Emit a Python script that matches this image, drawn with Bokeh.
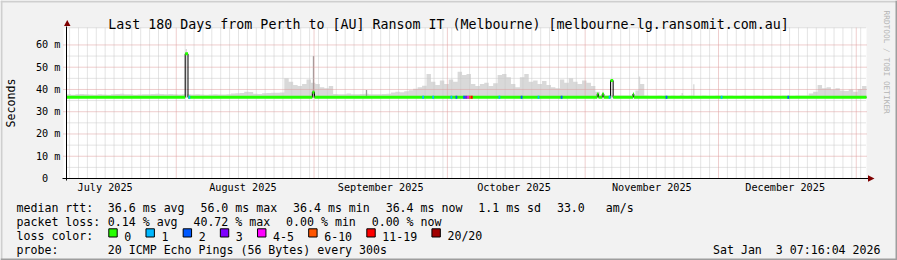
import math
import datetime as dt
from bokeh.plotting import figure
from bokeh.models import Range1d, FixedTicker, Label, BoxAnnotation, PolyAnnotation
from bokeh.embed import file_html
from bokeh.resources import INLINE

# ---------------- data ----------------
TITLE = "Last 180 Days from Perth to [AU] Ransom IT (Melbourne) [melbourne-lg.ransomit.com.au]"
END_TIME = dt.datetime(2026, 1, 3, 7, 16, 4)
SPAN_DAYS = 180
ORIGIN = dt.datetime(2025, 7, 1)

month_labels = ["July 2025", "August 2025", "September 2025",
                "October 2025", "November 2025", "December 2025"]
month_label_dates = [dt.datetime(2025, m, 16) for m in range(7, 13)]
month_start_dates = [dt.datetime(2025, 8, 1), dt.datetime(2025, 9, 1), dt.datetime(2025, 10, 1),
                     dt.datetime(2025, 11, 1), dt.datetime(2025, 12, 1), dt.datetime(2026, 1, 1)]

y_ticks_ms = [0, 10, 20, 30, 40, 50, 60]
y_tick_labels = ["0  ", "10 m", "20 m", "30 m", "40 m", "50 m", "60 m"]
y_minor_ms = [5, 15, 25, 35, 45, 55]

# upper edge of the smoke (ms), one value per day from the start of the window
smoke_hi_ms = [
    37.9, 37.6, 37.9, 38.0, 37.8, 37.7, 37.6, 37.8, 37.7, 37.6,
    37.8, 38.0, 38.1, 37.9, 37.8, 37.6, 37.7, 37.8, 37.9, 38.0,
    38.1, 38.0, 37.9, 38.0, 37.8, 37.7, 37.9, 37.8, 37.7, 37.8,
    37.7, 37.6, 37.7, 37.8, 37.7, 37.7, 37.9, 38.2, 38.3, 38.4,
    39.0, 38.9, 38.1, 38.0, 38.3, 38.4, 38.5, 38.5, 38.6, 45.0,
    43.5, 42.0, 41.5, 42.5, 44.5, 43.0, 42.5, 41.0, 40.5, 41.5,
    38.0, 37.8, 37.9, 38.2, 37.9, 37.8, 38.0, 38.1, 37.9, 37.8,
    37.9, 38.0, 38.1, 38.6, 39.0, 38.7, 39.2, 39.6, 40.3, 41.0,
    41.7, 47.0, 43.5, 42.0, 44.0, 42.5, 44.5, 43.5, 48.0, 46.5,
    47.0, 42.5, 41.5, 42.5, 43.0, 41.5, 42.8, 46.5, 47.0, 45.5,
    42.5, 41.0, 45.5, 47.0, 43.5, 44.0, 42.5, 43.8, 42.0, 41.0,
    40.5, 44.5, 43.0, 45.0, 43.5, 42.5, 44.0, 43.0, 41.5, 39.0,
    37.4, 37.3, 37.5, 37.3, 37.3, 37.3, 37.3, 37.3, 39.5, 42.5,
    37.3, 37.2, 37.2, 37.3, 37.2, 37.2, 37.3, 37.2, 37.4, 37.2,
    37.3, 37.2, 37.2, 37.3, 37.2, 37.2, 37.3, 37.2, 37.2, 37.3,
    37.2, 37.2, 37.3, 37.2, 37.2, 37.3, 37.2, 37.2, 37.3, 37.2,
    37.2, 37.3, 37.2, 37.2, 37.3, 37.3, 37.3, 38.2, 39.0, 42.0,
    40.5, 41.0, 40.0, 40.5, 39.5, 39.3, 40.0, 39.0, 40.2, 41.5,
]
smoke_floor_ms = 36.3

# thin smoke spikes: day (since ORIGIN), top (ms), dark shade?
spike_day = [33.26, 61.88, 73.80, 135.23, 144.84, 147.45]
spike_ms = [58.2, 55.0, 39.8, 45.8, 38.4, 42.3]
spike_dark = [False, True, True, False, False, False]

# median rtt as a step series: breakpoints (day since ORIGIN) and value (ms)
med_day = [6.3028, 33.01, 33.64, 61.62, 62.10, 125.72, 126.00, 126.85, 127.20,
           128.72, 129.30, 133.76, 133.95, 186.3028]
med_ms = [36.5, 56.0, 36.5, 38.8, 36.5, 38.0, 36.5, 38.0, 36.5,
          44.0, 36.5, 38.0, 36.5, 36.5]

# packet-loss colouring of the median line: day and loss level index
loss_day = [33.75, 86.34, 88.60, 92.70, 93.83, 95.55, 96.00, 96.45, 96.90, 97.30,
            103.50, 108.50, 112.30, 117.50, 128.30, 141.10, 153.50, 168.50]
loss_level = [1, 1, 1, 1, 2, 2, 3, 4, 5, 6,
              1, 2, 1, 2, 1, 2, 1, 2]

loss_names = ["0", "1", "2", "3", "4-5", "6-10", "11-19", "20/20"]
loss_colors = ["#26ff00", "#00b8ff", "#0059ff", "#7e00ff",
               "#ff00ff", "#ff5500", "#ff0000", "#a10000"]

rtt_kinds = ["avg", "max", "min", "now"]
rtt_stats_ms = [36.6, 56.0, 36.4, 36.4]
rtt_sd_ms = 1.1
rtt_am_s = 33.0
loss_stats_pct = [0.14, 40.72, 0.00, 0.00]
probe_text = "20 ICMP Echo Pings (56 Bytes) every 300s"
stamp_text = "Sat Jan  3 07:16:04 2026"
watermark = "RRDTOOL / TOBI OETIKER"

# ---------------- layout / style ----------------
FONT = "DejaVu Sans Mono"
W, H = 897, 260
CANVAS_L, CANVAS_R = 66, 866
CANVAS_T, CANVAS_B = 27.3, 178
PPD = (CANVAS_R - CANVAS_L) / SPAN_DAYS
PPM = 2.226
BACK = "#f2f2f2"
GRID = "#c8c8c8"
MGRID = "#de9c9c"
ARROW = "#7f0000"
SMOKE = "#d9d9d9"
SMOKE_DARK = "#9a9a9a"
LS = 11.6                 # legend font size (px)
CW = 0.602 * LS           # monospace advance
GAP = 15.8                # gap between legend items


def days(t):
    return (t - ORIGIN).total_seconds() / 86400.0


t_end = days(END_TIME)
t_start = t_end - SPAN_DAYS


def dx(px):
    return t_start + (px - CANVAS_L) / PPD


def dy(py):
    return (CANVAS_B - py) / PPM


top_ms = dy(CANVAS_T)

# the frame covers the whole picture; scales map time/ms onto it
p = figure(width=W, height=H, output_backend="svg", toolbar_location=None,
           x_range=Range1d(dx(0), dx(W)), y_range=Range1d(dy(H), dy(0)),
           min_border_left=0, min_border_right=0, min_border_top=0, min_border_bottom=0)
p.background_fill_color = BACK
p.border_fill_color = BACK
p.outline_line_color = None
p.xgrid.visible = False
p.ygrid.visible = False

# axes (drawn at fixed data locations inside the frame)
label_days = [days(d) for d in month_label_dates]
xa = p.xaxis[0]
xa.fixed_location = 0
xa.bounds = (dx(62), dx(868))
xa.ticker = FixedTicker(ticks=label_days)
xa.major_label_overrides = {d: lab for d, lab in zip(label_days, month_labels)}
xa.major_tick_out = 0
xa.major_tick_in = 0
xa.minor_tick_out = 0
xa.minor_tick_in = 0
xa.axis_line_color = "black"
xa.major_label_text_font = FONT
xa.major_label_text_font_size = "10.2px"
xa.major_label_text_color = "black"
xa.major_label_standoff = 3

ya = p.yaxis[0]
ya.fixed_location = t_start
ya.bounds = (dy(180), dy(25.5))
ya.ticker = FixedTicker(ticks=y_ticks_ms)
ya.major_label_overrides = {v: lab for v, lab in zip(y_ticks_ms, y_tick_labels)}
ya.major_tick_out = 0
ya.major_tick_in = 0
ya.minor_tick_out = 0
ya.minor_tick_in = 0
ya.axis_line_color = "black"
ya.major_label_text_font = FONT
ya.major_label_text_font_size = "10.2px"
ya.major_label_text_color = "black"
ya.major_label_standoff = 6

# white canvas
p.quad(left=[dx(63)], right=[t_end], bottom=[0], top=[top_ms],
       fill_color="white", line_color=None)

# smoke
sx = [t_start + i for i in range(len(smoke_hi_ms) + 1)]
p.varea_step(x=sx, y1=[smoke_floor_ms] * len(sx), y2=smoke_hi_ms + [smoke_hi_ms[-1]],
             step_mode="after", fill_color=SMOKE)
p.vbar(x=spike_day, width=0.3, bottom=smoke_floor_ms, top=spike_ms,
       fill_color=[SMOKE_DARK if d else SMOKE for d in spike_dark], line_color=None)

# grid
major_days = [days(d) for d in month_start_dates]
minor_days = [d for d in range(math.ceil(t_start), int(t_end) + 1)
              if d % 2 == 1 and all(abs(d - m) > 0.5 for m in major_days)]
p.segment(x0=minor_days, y0=0, x1=minor_days, y1=top_ms,
          line_color=GRID, line_dash="1 1", line_width=1)
hy = y_minor_ms + [top_ms]
p.segment(x0=t_start, y0=hy, x1=t_end, y1=hy,
          line_color=GRID, line_dash="1 1", line_width=1)
p.segment(x0=major_days, y0=0, x1=major_days, y1=top_ms,
          line_color=MGRID, line_dash="1 1", line_width=1)
p.segment(x0=dx(63), y0=y_ticks_ms[1:], x1=t_end, y1=y_ticks_ms[1:],
          line_color=MGRID, line_dash="1 1", line_width=1)

# median (thin black step + thick loss-coloured line)
p.step(x=med_day, y=med_ms, mode="after", line_color="black", line_width=1)
p.segment(x0=med_day[:-1], y0=med_ms[:-1], x1=med_day[1:], y1=med_ms[:-1],
          line_color=loss_colors[0], line_width=3)


def med_at(d):
    v = med_ms[0]
    for k in range(len(med_day) - 1):
        if med_day[k] <= d:
            v = med_ms[k]
    return v


lm = [med_at(d) for d in loss_day]
p.segment(x0=loss_day, y0=lm, x1=[d + 0.4 for d in loss_day], y1=lm,
          line_color=[loss_colors[l] for l in loss_level], line_width=3)


# ---------------- annotations (canvas pixel helpers; frame == canvas) ----------------
def text(t, cx, cy, size, align="left", baseline="alphabetic", color="black", angle=0.0):
    t = t.replace("  ", " \u00a0")
    p.add_layout(Label(x=cx, y=H - cy, x_units="screen", y_units="screen", text=t,
                       text_font=FONT, text_font_size=f"{size}px", text_color=color,
                       text_align=align, text_baseline=baseline, angle=angle))


def box(x0, y0, x1, y1, fill, line=None):
    p.add_layout(BoxAnnotation(left=x0, right=x1, top=H - y0, bottom=H - y1,
                               left_units="screen", right_units="screen",
                               top_units="screen", bottom_units="screen",
                               fill_color=fill, fill_alpha=1.0,
                               line_color=line if line else fill, line_alpha=1.0 if line else 0.0,
                               line_width=1, level="overlay"))


def poly(xs, ys, fill):
    p.add_layout(PolyAnnotation(xs=list(xs), ys=[H - y for y in ys],
                                xs_units="screen", ys_units="screen",
                                fill_color=fill, fill_alpha=1.0, line_color=None))


def legend_row(items, cy, x0=107.3):
    x = x0
    for it in items:
        text(it, x, cy, LS)
        x += len(it) * CW + GAP


# arrows
poly([63.5, 70, 66.75], [25.5, 25.5, 19.5], ARROW)
poly([867.5, 867.5, 874], [174.8, 181.2, 178], ARROW)

# title, axis label, watermark
text(TITLE, 448, 24, 13.3, align="center")
text("Seconds", 10, 102.5, 11.6, align="center", baseline="middle", angle=math.pi / 2)
text(watermark, 886, 10, 7.8, align="left", baseline="middle", color="#b4b4b4", angle=-math.pi / 2)

# legend
rows = [207.7, 221.7, 235.7, 249.7]
col0, col1 = 16, 107.3
text("median rtt:", col0, rows[0], LS)
legend_row([f"{v:.1f} ms {k}" for v, k in zip(rtt_stats_ms, rtt_kinds)]
           + [f"{rtt_sd_ms:.1f} ms sd", f"{rtt_am_s:.1f}   am/s"], rows[0])

text("packet loss:", col0, rows[1], LS)
legend_row([f"{v:.2f} % {k}" for v, k in zip(loss_stats_pct, rtt_kinds)], rows[1])

text("loss color:", col0, rows[2], LS)
bx = 108.3
for name, col in zip(loss_names, loss_colors):
    box(bx, 228.3, bx + 8.4, 236.5, col, "black")
    tx = bx + 15.5
    text(name, tx, rows[2], LS)
    bx = tx + len(name) * CW + 14.7

text("probe:", col0, rows[3], LS)
text(probe_text, col1, rows[3], LS)
text(stamp_text, 880, rows[3], LS, align="right")

# outer 3D border
box(0, 0, W, 2, "#cfcfcf")
box(0, 0, 2, H, "#cfcfcf")
box(0, H - 2, W, H, "#9e9e9e")
box(W - 2, 0, W, H, "#9e9e9e")

open("out.html", "w").write(file_html(p, INLINE))
